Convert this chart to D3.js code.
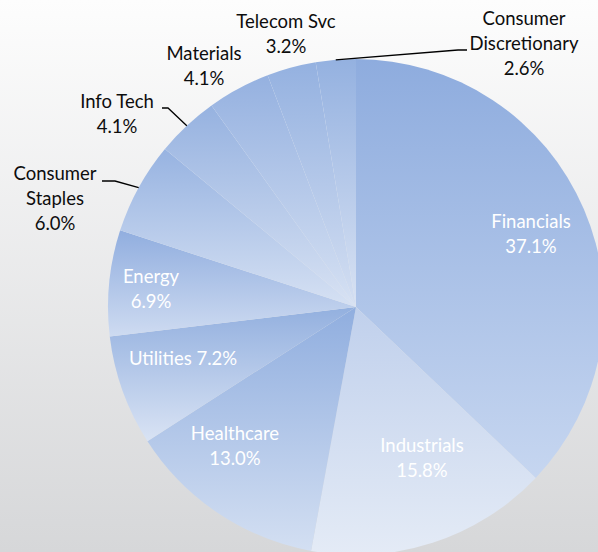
<!DOCTYPE html>
<html>
<head>
<meta charset="utf-8">
<script src="https://cdn.jsdelivr.net/npm/d3@7"></script>
<style>
  html, body { margin: 0; padding: 0; background: #fff; }
  svg { display: block; }
  text { font-family: Lato, "Open Sans", sans-serif; }
</style>
</head>
<body>
<svg id="chart" width="598" height="552"></svg>
<script>
// Sector weights (percent of portfolio)
const sectors = ["Financials", "Industrials", "Healthcare", "Utilities", "Energy",
                 "Consumer Staples", "Info Tech", "Materials", "Telecom Svc", "Consumer Discretionary"];
const weights = [37.1, 15.8, 13.0, 7.2, 6.9, 6.0, 4.1, 4.1, 3.2, 2.6];

// Label text lines (category name broken over lines, value appended)
const labelLines = [
  ["Financials"], ["Industrials"], ["Healthcare"], ["Utilities"], ["Energy"],
  ["Consumer", "Staples"], ["Info Tech"], ["Materials"], ["Telecom Svc"], ["Consumer", "Discretionary"]
];

const W = 598, H = 552;
const cx = 356, cy = 307, R = 248;
const lineH = 25;

// Label layout: centre x and first baseline y, whether the label sits inside
// the pie, whether the value shares the last line, and leader elbow points.
const labelLayout = {
  "Financials":             { x: 531, y: 228, inside: true },
  "Industrials":            { x: 422, y: 452, inside: true },
  "Healthcare":             { x: 235, y: 440, inside: true },
  "Utilities":              { x: 183, y: 365, inside: true, inline: true },
  "Energy":                 { x: 151, y: 283, inside: true },
  "Consumer Staples":       { x: 55,  y: 180, leader: [[115, 181], [102, 181]] },
  "Info Tech":              { x: 117, y: 108, leader: [[168, 108], [162, 108]] },
  "Materials":              { x: 204, y: 60 },
  "Telecom Svc":            { x: 286, y: 28 },
  "Consumer Discretionary": { x: 524, y: 25, leader: [[458, 50], [467, 50]] }
};

// Per-slice gradient colours (top of slice → bottom of slice)
const sliceShades = {
  "Financials":             ["#8eacde", "#c6d6f0"],
  "Industrials":            ["#c0d0ec", "#e4ebf6"],
  "Healthcare":             ["#90aedf", "#d3dff2"],
  "Utilities":              ["#93b0df", "#d9e3f4"],
  "Energy":                 ["#91aedf", "#cedbf1"],
  "Consumer Staples":       ["#97b3e1", "#d6e1f3"],
  "Info Tech":              ["#96b2e0", "#d8e2f3"],
  "Materials":              ["#95b1e0", "#d6e1f3"],
  "Telecom Svc":            ["#94b1e0", "#d4dff2"],
  "Consumer Discretionary": ["#94b1e0", "#d8e2f3"]
};

const svg = d3.select("#chart");
const defs = svg.append("defs");

// Backdrop: soft white-to-grey vertical wash
const bg = defs.append("linearGradient").attr("id", "bg")
  .attr("x1", 0).attr("y1", 0).attr("x2", 0).attr("y2", 1);
bg.append("stop").attr("offset", "0%").attr("stop-color", "#fdfdfd");
bg.append("stop").attr("offset", "100%").attr("stop-color", "#d6d7d9");
svg.append("rect").attr("width", W).attr("height", H).attr("fill", "url(#bg)");

const data = sectors.map((s, i) => ({ sector: s, weight: weights[i], lines: labelLines[i] }));

data.forEach((d, i) => {
  const g = defs.append("linearGradient").attr("id", "slice" + i)
    .attr("x1", 0).attr("y1", 0).attr("x2", 0).attr("y2", 1);
  g.append("stop").attr("offset", "0%").attr("stop-color", sliceShades[d.sector][0]);
  g.append("stop").attr("offset", "100%").attr("stop-color", sliceShades[d.sector][1]);
});

const pie = d3.pie().sort(null).value(d => d.weight);
const arc = d3.arc().innerRadius(0).outerRadius(R);
const arcs = pie(data);

const chart = svg.append("g").attr("transform", `translate(${cx},${cy})`);

chart.selectAll("path.slice")
  .data(arcs)
  .join("path")
  .attr("class", "slice")
  .attr("d", arc)
  .attr("fill", (d, i) => `url(#slice${i})`);

const fmt = v => d3.format(".1f")(v) + "%";

// Leader lines from the slice rim to outside labels
const rim = d3.arc().innerRadius(R).outerRadius(R);
arcs.forEach(a => {
  const lay = labelLayout[a.data.sector];
  if (!lay.leader) return;
  const mid = (a.startAngle + a.endAngle) / 2;
  const p0 = [cx + R * Math.sin(mid), cy - R * Math.cos(mid)];
  const pts = [p0].concat(lay.leader);
  svg.append("path")
    .attr("d", d3.line()(pts))
    .attr("fill", "none")
    .attr("stroke", "#000")
    .attr("stroke-width", 1.3);
});

// Labels
arcs.forEach(a => {
  const d = a.data;
  const lay = labelLayout[d.sector];
  const lines = lay.inline
    ? [d.lines.join(" ") + " " + fmt(d.weight)]
    : d.lines.concat([fmt(d.weight)]);
  const t = svg.append("text")
    .attr("text-anchor", "middle")
    .attr("font-size", 18.5)
    .attr("fill", lay.inside ? "#ffffff" : "#0d0d0d");
  lines.forEach((ln, k) => {
    t.append("tspan").attr("x", lay.x).attr("y", lay.y + k * lineH).text(ln);
  });
});
</script>
</body>
</html>
